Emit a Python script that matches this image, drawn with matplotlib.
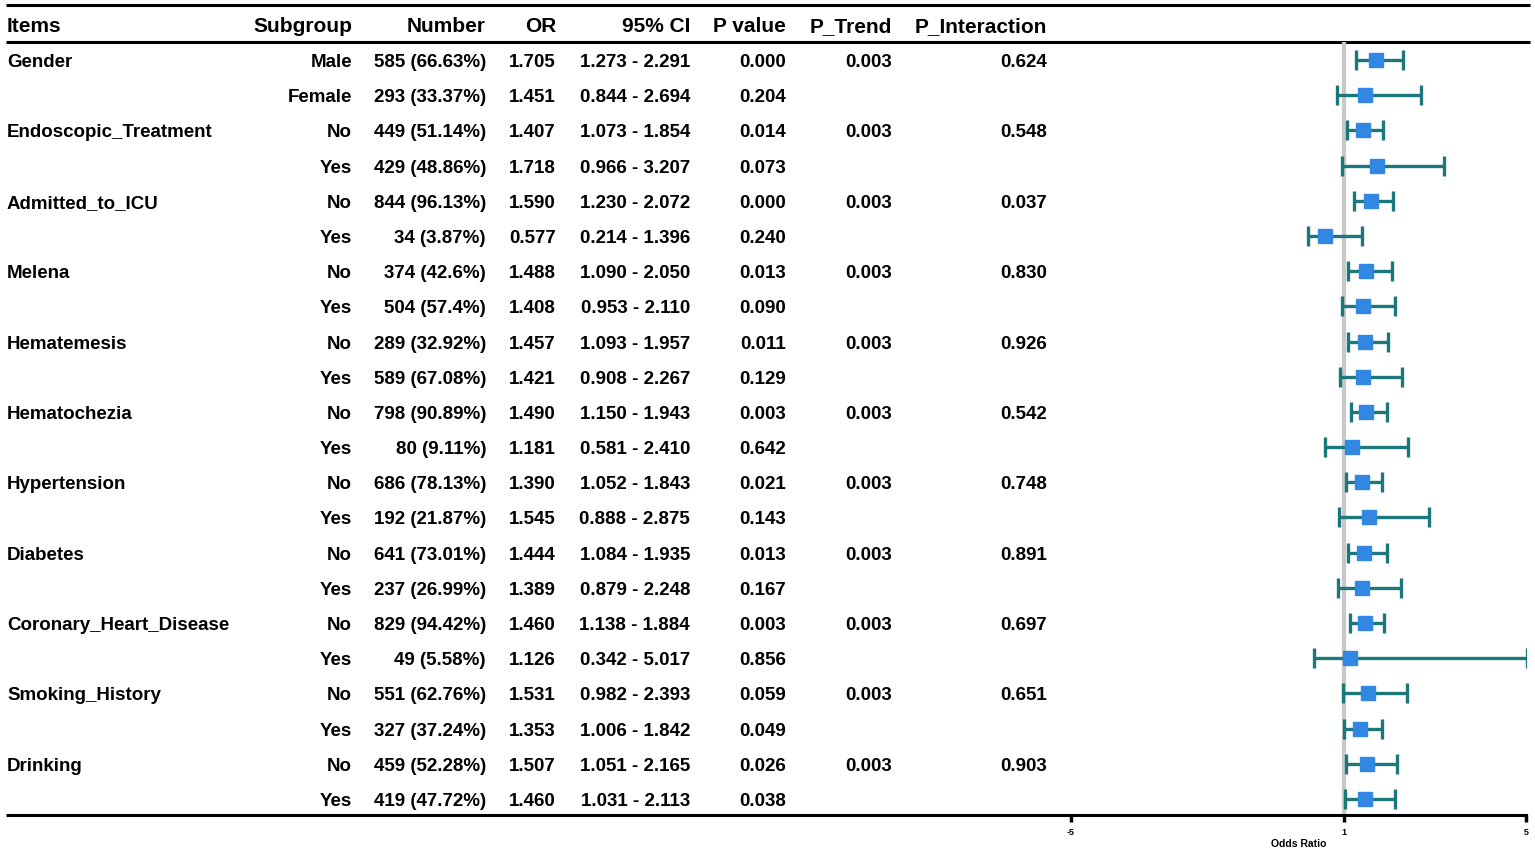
import matplotlib
matplotlib.use("Agg")
import matplotlib.pyplot as plt

plt.rcParams['font.family'] = ['Liberation Sans', 'DejaVu Sans']

items = ["Gender", "Endoscopic_Treatment", "Admitted_to_ICU", "Melena", "Hematemesis",
         "Hematochezia", "Hypertension", "Diabetes", "Coronary_Heart_Disease",
         "Smoking_History", "Drinking"]
subgroups = ["Male", "Female"] + ["No", "Yes"] * 10
numbers = ["585 (66.63%)", "293 (33.37%)", "449 (51.14%)", "429 (48.86%)",
           "844 (96.13%)", "34 (3.87%)", "374 (42.6%)", "504 (57.4%)",
           "289 (32.92%)", "589 (67.08%)", "798 (90.89%)", "80 (9.11%)",
           "686 (78.13%)", "192 (21.87%)", "641 (73.01%)", "237 (26.99%)",
           "829 (94.42%)", "49 (5.58%)", "551 (62.76%)", "327 (37.24%)",
           "459 (52.28%)", "419 (47.72%)"]
odds = [1.705, 1.451, 1.407, 1.718, 1.590, 0.577, 1.488, 1.408, 1.457, 1.421,
        1.490, 1.181, 1.390, 1.545, 1.444, 1.389, 1.460, 1.126, 1.531, 1.353,
        1.507, 1.460]
lower = [1.273, 0.844, 1.073, 0.966, 1.230, 0.214, 1.090, 0.953, 1.093, 0.908,
         1.150, 0.581, 1.052, 0.888, 1.084, 0.879, 1.138, 0.342, 0.982, 1.006,
         1.051, 1.031]
upper = [2.291, 2.694, 1.854, 3.207, 2.072, 1.396, 2.050, 2.110, 1.957, 2.267,
         1.943, 2.410, 1.843, 2.875, 1.935, 2.248, 1.884, 5.017, 2.393, 1.842,
         2.165, 2.113]
pvals = ["0.000", "0.204", "0.014", "0.073", "0.000", "0.240", "0.013", "0.090",
         "0.011", "0.129", "0.003", "0.642", "0.021", "0.143", "0.013", "0.167",
         "0.003", "0.856", "0.059", "0.049", "0.026", "0.038"]
p_trend = ["0.003"] * 11
p_interaction = ["0.624", "0.548", "0.037", "0.830", "0.926", "0.542", "0.748",
                 "0.891", "0.697", "0.651", "0.903"]
headers = ["Items", "Subgroup", "Number", "OR", "95% CI", "P value", "P_Trend", "P_Interaction"]
xticks = [-5, 1, 5]

W, H = 1535, 851
fig = plt.figure(figsize=(W / 100, H / 100), dpi=100)

# table axes in pixel coordinates
tax = fig.add_axes([0, 0, 1, 1])
tax.set_xlim(0, W)
tax.set_ylim(H, 0)
tax.axis('off')

y0, dy = 60, 35.19
fs = 13.5
hfs = 15
toff = 2.5  # text vertical nudge
# column right edges
col_sub, col_num, col_or, col_ci, col_p, col_tr, col_int = 352, 486, 556, 690, 786, 892, 1047

hy = 24 + toff
tax.text(7, hy, headers[0], ha='left', va='center', fontsize=hfs, fontweight='bold')
for h, x in zip(headers[1:], [col_sub, col_num, col_or, col_ci, col_p, col_tr, col_int]):
    tax.text(x, hy, h, ha='right', va='center', fontsize=hfs, fontweight='bold')

tax.plot([6, 1530], [5, 5], color='black', lw=2.2, solid_capstyle='butt')
tax.plot([6, 1530], [42, 42], color='black', lw=2.2, solid_capstyle='butt')
tax.plot([6, 1071], [815, 815], color='black', lw=2.2, solid_capstyle='butt')

n = len(odds)
for i in range(n):
    y = y0 + dy * i + toff
    if i % 2 == 0:
        tax.text(7, y, items[i // 2], ha='left', va='center', fontsize=fs, fontweight='bold')
        tax.text(col_tr, y, p_trend[i // 2], ha='right', va='center', fontsize=fs, fontweight='bold')
        tax.text(col_int, y, p_interaction[i // 2], ha='right', va='center', fontsize=fs, fontweight='bold')
    tax.text(col_sub, y, subgroups[i], ha='right', va='center', fontsize=fs, fontweight='bold')
    tax.text(col_num, y, numbers[i], ha='right', va='center', fontsize=fs, fontweight='bold')
    tax.text(col_or, y, f"{odds[i]:.3f}", ha='right', va='center', fontsize=fs, fontweight='bold')
    tax.text(col_ci, y, f"{lower[i]:.3f} - {upper[i]:.3f}", ha='right', va='center',
             fontsize=fs, fontweight='bold')
    tax.text(col_p, y, pvals[i], ha='right', va='center', fontsize=fs, fontweight='bold')

# forest axes
left_px, right_px = 1071, 1526
top_px, bot_px = 42, 815
fax = fig.add_axes([left_px / W, 1 - bot_px / H, (right_px - left_px) / W, (bot_px - top_px) / H])
fax.patch.set_alpha(0)
fax.set_xlim(-5, 5)
ytop = (top_px - y0) / dy
ybot = (bot_px - y0) / dy
fax.set_ylim(ybot, ytop)
for s in ['top', 'right', 'left']:
    fax.spines[s].set_visible(False)
fax.spines['bottom'].set_linewidth(2.2)
fax.set_yticks([])
fax.set_xticks(xticks)
fax.set_xticklabels([str(t) for t in xticks], fontsize=6.5, fontweight='bold')
fax.tick_params(axis='x', direction='out', length=5, width=2.5, pad=4.5)
fax.set_xlabel("Odds Ratio", fontsize=7.5, fontweight='bold', labelpad=1)

fax.axvline(1, color='#c8c8c8', lw=3, zorder=1)
rows = list(range(n))
fax.errorbar(odds, rows, xerr=[[o - l for o, l in zip(odds, lower)],
                               [u - o for o, u in zip(odds, upper)]],
             fmt='none', ecolor='#1b7779', elinewidth=2.4, capsize=7, capthick=2.4, zorder=2)
fax.plot(odds, rows, 's', color='#3287e3', markersize=10.5, zorder=3, clip_on=False)

fig.savefig("out.png", dpi=100)
